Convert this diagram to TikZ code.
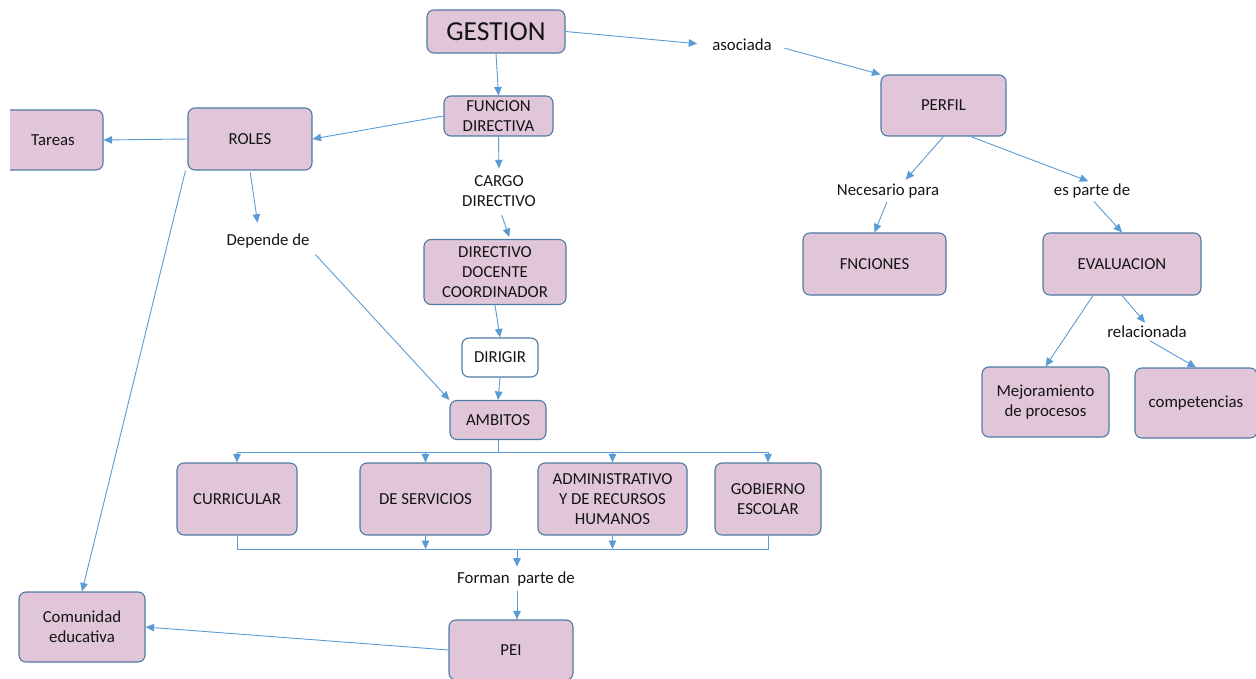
\documentclass[tikz,border=0pt]{standalone}
\usepackage{fontspec}
\setmainfont{Carlito}
\usetikzlibrary{arrows.meta}
\definecolor{boxfill}{HTML}{E1C6D9}
\definecolor{boxline}{HTML}{4F7AA3}
\definecolor{arrowc}{HTML}{5B9BD5}
\definecolor{txt}{HTML}{141414}
\begin{document}
\begin{tikzpicture}[x=1pt,y=-1pt,
  box/.style={draw=boxline, fill=boxfill, line width=1.1pt, rounded corners=7pt, align=center, inner sep=0pt, text=txt, font=\fontsize{16.8}{20}\selectfont},
  wbox/.style={box, fill=white},
  lbl/.style={align=center, inner sep=1pt, text=txt, font=\fontsize{16.8}{20}\selectfont},
  arr/.style={draw=arrowc, line width=0.9pt, -{Triangle[length=8.5pt,width=7.5pt]}},
  ln/.style={draw=arrowc, line width=0.9pt}]
\path[use as bounding box] (0,0) rectangle (1256,679);
% boxes
\node[box, minimum width=138, minimum height=43, font=\fontsize{27.5}{30}\selectfont] (gestion) at (496,31.5) {GESTION};
\node[box, minimum width=109, minimum height=40] (funcion) at (498.5,116) {FUNCION\\DIRECTIVA};
\node[lbl] (asociada) at (742,45) {asociada};
\node[box, minimum width=125, minimum height=61] (perfil) at (943.5,105.5) {PERFIL};
\begin{scope}
\clip (10,0) rectangle (1256,679);
\node[box, minimum width=100, minimum height=60] (tareas) at (53,140) {Tareas};
\end{scope}
\node[box, minimum width=124, minimum height=62] (roles) at (250,139) {ROLES};
\node[lbl] (depende) at (268,241) {Depende de};
\node[lbl] (cargo) at (499,191) {CARGO\\DIRECTIVO};
\node[box, minimum width=142, minimum height=65] (directivo) at (495,272) {DIRECTIVO\\DOCENTE\\COORDINADOR};
\node[wbox, minimum width=76, minimum height=39] (dirigir) at (500,357.5) {DIRIGIR};
\node[box, minimum width=96, minimum height=39] (ambitos) at (498,420) {AMBITOS};
\node[box, minimum width=120, minimum height=72] (curricular) at (237,499) {CURRICULAR};
\node[box, minimum width=131, minimum height=72] (servicios) at (425.5,499) {DE SERVICIOS};
\node[box, minimum width=149, minimum height=72] (admin) at (612.5,499) {ADMINISTRATIVO\\Y DE RECURSOS\\HUMANOS};
\node[box, minimum width=106, minimum height=72] (gobierno) at (768,499) {GOBIERNO\\ESCOLAR};
\node[lbl] (forman) at (516,579) {Forman\ \ parte de};
\node[box, minimum width=124, minimum height=60] (pei) at (511,650) {PEI};
\node[box, minimum width=126, minimum height=70] (comunidad) at (82,627) {Comunidad\\educativa};
\node[lbl] (necesario) at (888,191) {Necesario para};
\node[lbl] (esparte) at (1092,191) {es parte de};
\node[box, minimum width=143, minimum height=62] (fnciones) at (874.5,264) {FNCIONES};
\node[box, minimum width=158, minimum height=62] (evaluacion) at (1122,264) {EVALUACION};
\node[lbl] (relacionada) at (1147,332) {relacionada};
\node[box, minimum width=127, minimum height=70] (mejora) at (1045.5,402) {Mejoramiento\\de procesos};
\node[box, minimum width=122, minimum height=70] (competencias) at (1196,403) {competencias};
% connectors
\draw[arr] (gestion.south) -- (funcion.north);
\draw[arr, shorten >=14pt] (gestion.east) -- (asociada.west);
\draw[arr, shorten <=12pt] (asociada.east) -- (perfil.north west);
\draw[arr] (roles.west) -- (tareas.east);
\draw[arr] (funcion.west) -- (roles.east);
\draw[arr, shorten <=2pt, shorten >=10pt] (roles.south) -- ([xshift=-9pt]depende.north);
\draw[arr, shorten <=7pt] (depende.south east) -- (ambitos.north west);
\draw[arr] ([xshift=-2pt]roles.south west) -- (comunidad.north);
\draw[arr, shorten >=6pt] (funcion.south) -- (cargo.north);
\draw[arr, shorten <=8pt, shorten >=2pt] (cargo.south) -- ([xshift=15pt]directivo.north);
\draw[arr] (directivo.south) -- (dirigir.north);
\draw[arr] (dirigir.south) -- (ambitos.north);
\coordinate (bt) at (498,452);
\coordinate (bb) at (517,549);
\draw[ln] (ambitos.south) -- (ambitos.south |- bt);
\draw[ln] (curricular.north |- bt) -- (gobierno.north |- bt);
\foreach \n in {curricular,servicios,admin,gobierno}
  \draw[arr] (\n.north |- bt) -- (\n.north);
\draw[ln] (curricular.south) -- (curricular.south |- bb) -- (gobierno.south |- bb) -- (gobierno.south);
\draw[arr] (servicios.south) -- (servicios.south |- bb);
\draw[arr] (admin.south) -- (admin.south |- bb);
\draw[arr, shorten >=4pt] (bb) -- (bb |- forman.north);
\draw[arr, shorten <=4pt] (bb |- forman.south) -- (bb |- pei.north);
\draw[arr] (pei.west) -- (comunidad.east);
\draw[arr, shorten >=4pt] (perfil.south) -- ([xshift=15pt]necesario.north);
\draw[arr, shorten <=3pt] (necesario.south) -- (fnciones.north);
\draw[arr, shorten <=1pt, shorten >=4pt] ([xshift=27pt]perfil.south) -- (esparte.north);
\draw[arr, shorten <=3pt] (esparte.south) -- (evaluacion.north);
\draw[arr] ([xshift=-29pt]evaluacion.south) -- (mejora.north);
\draw[arr, shorten >=3pt] (evaluacion.south) -- (relacionada.north);
\draw[arr, shorten <=3pt] (relacionada.south) -- (competencias.north);
\end{tikzpicture}
\end{document}
